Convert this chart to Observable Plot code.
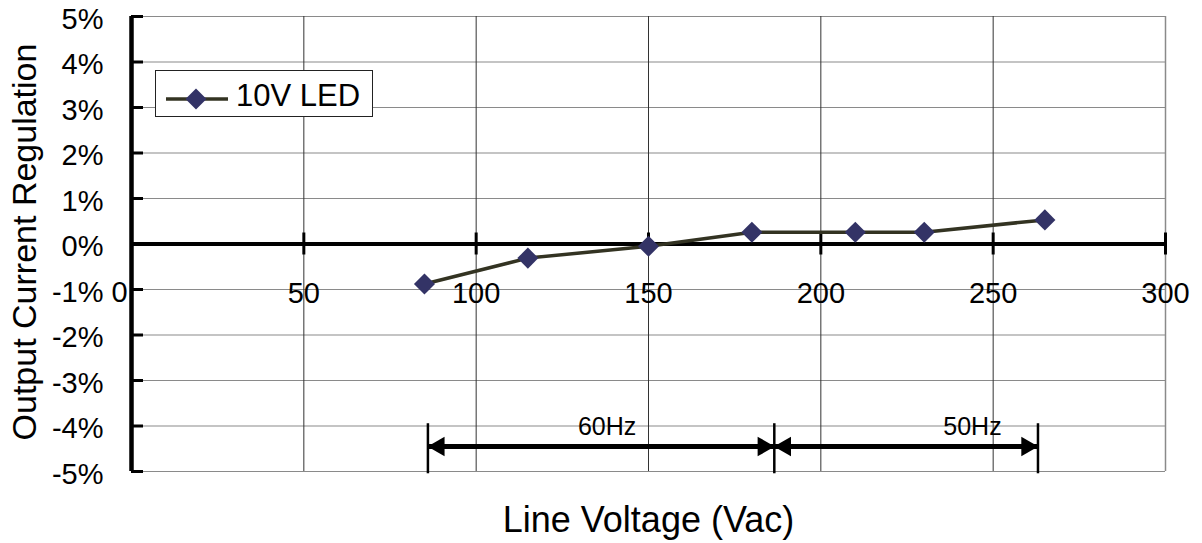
<!DOCTYPE html>
<html>
<head>
<meta charset="utf-8">
<script src="https://cdn.jsdelivr.net/npm/d3@7"></script>
<script src="https://cdn.jsdelivr.net/npm/@observablehq/plot@0.6"></script>
<style>
  html, body { margin: 0; padding: 0; background: #fff; }
  #wrap { position: relative; width: 1202px; height: 543px; }
  #legend {
    position: absolute; left: 155px; top: 70px; width: 216px; height: 45px;
    background: #fff; border: 1px solid #222; box-sizing: content-box;
    font-family: "Liberation Sans", Arial, sans-serif; font-size: 31px; color: #000;
  }
  #legend svg { position: absolute; left: 10px; top: 16px; }
  #legend span { position: absolute; left: 80px; top: 8px; line-height: 34px; }
</style>
</head>
<body>
<div id="wrap"></div>
<script>
// ---- data ----
const voltage = [85, 115, 150, 180, 210, 230, 265];
const regulation = [-0.88, -0.31, -0.05, 0.26, 0.26, 0.26, 0.53];
const xTicks = [0, 50, 100, 150, 200, 250, 300];
const yTicks = [-5, -4, -3, -2, -1, 0, 1, 2, 3, 4, 5];
const bandLabels = ["60Hz", "50Hz"];
const bandStart = [86, 186.5];
const bandEnd = [186.5, 263];
const bandLabelX = [138, 244];
const bandEdges = [86, 186.5, 263];
const arrowY = -4.45;
const bandLabelY = -4.03;
const edgeTop = -3.95;
const edgeBottom = -5.05;
const seriesName = "10V LED";

const data = voltage.map((v, i) => ({v, r: regulation[i]}));
const bands = bandLabels.map((l, i) => ({label: l, x1: bandStart[i], x2: bandEnd[i], lx: bandLabelX[i]}));

const lineColor = "#333322";
const dotColor = "#333366";
const font = "Liberation Sans, Arial, sans-serif";

const chart = Plot.plot({
  width: 1202,
  height: 543,
  marginLeft: 131,
  marginRight: 37,
  marginTop: 16,
  marginBottom: 72,
  style: {fontFamily: font, background: "#fff", overflow: "visible"},
  x: {domain: [0, 300], axis: null},
  y: {domain: [-5, 5], axis: null},
  marks: [
    // horizontal gridlines
    Plot.ruleY(yTicks.filter(d => d !== 0), {y: d => d, stroke: "#8a8a8a", strokeWidth: 1.2}),
    // vertical gridlines
    Plot.ruleX(xTicks.filter(d => d > 0 && d < 300), {x: d => d, stroke: "#333", strokeWidth: 1}),
    Plot.ruleX(xTicks.filter(d => d === 300), {x: d => d, stroke: "#8a8a8a", strokeWidth: 1.5}),
    // frequency band edges
    Plot.ruleX(bandEdges, {x: d => d, y1: () => edgeTop, y2: () => edgeBottom, stroke: "#000", strokeWidth: 2.5}),
    // arrow shafts
    Plot.ruleY(bands, {x1: "x1", x2: "x2", y: () => arrowY, stroke: "#000", strokeWidth: 5}),
    // arrow heads
    Plot.dot(bandStart, {x: d => d, y: () => arrowY, symbol: "triangle", r: 7.3, rotate: -90, dx: 11, fill: "#000", stroke: "none"}),
    Plot.dot(bandEnd, {x: d => d, y: () => arrowY, symbol: "triangle", r: 7.3, rotate: 90, dx: -11, fill: "#000", stroke: "none"}),
    // band labels
    Plot.text(bands, {x: "lx", y: () => bandLabelY, text: "label", fontSize: 25, fill: "#000"}),
    // axes lines
    Plot.ruleY([0], {y: d => d, stroke: "#000", strokeWidth: 4}),
    Plot.ruleX([0], {x: d => d, stroke: "#000", strokeWidth: 4.5}),
    // x ticks on zero line
    Plot.ruleX(xTicks.filter(d => d > 0), {x: d => d, y1: () => 0, y2: () => 0, insetTop: -11, insetBottom: -11, stroke: "#000", strokeWidth: 3}),
    // y ticks
    Plot.ruleY(yTicks, {y: d => d, x1: () => 0, x2: () => 0, insetRight: -12, stroke: "#000", strokeWidth: 3}),
    // y tick labels
    Plot.text(yTicks, {y: d => d, frameAnchor: "left", dx: -28, dy: 3, textAnchor: "end", lineAnchor: "middle", text: d => d + "%", fontSize: 29, fill: "#000"}),
    // x tick labels
    Plot.text(xTicks.filter(d => d > 0), {x: d => d, y: () => 0, dy: 50, text: d => String(d), fontSize: 29, fill: "#000"}),
    Plot.text(xTicks.filter(d => d === 0), {x: d => d, y: () => 0, dy: 49, dx: -12, text: d => String(d), fontSize: 29, fill: "#000"}),
    // series
    Plot.line(data, {x: "v", y: "r", stroke: lineColor, strokeWidth: 3.5}),
    Plot.dot(data, {x: "v", y: "r", symbol: "diamond2", r: 9.5, fill: dotColor, stroke: "none"}),
    // axis titles
    Plot.text(["Line Voltage (Vac)"], {frameAnchor: "bottom", dy: 49, textAnchor: "middle", lineAnchor: "middle", text: d => d, fontSize: 36, fill: "#000"}),
    Plot.text(["Output Current Regulation"], {frameAnchor: "left", dx: -106, dy: -2, rotate: -90, textAnchor: "middle", lineAnchor: "middle", text: d => d, fontSize: 34, fill: "#000"})
  ]
});

const wrap = document.getElementById("wrap");
wrap.appendChild(chart);

// legend
const legend = document.createElement("div");
legend.id = "legend";
legend.innerHTML = `<svg width="64" height="24" viewBox="0 0 64 24">
  <line x1="0" y1="12" x2="62" y2="12" stroke="${lineColor}" stroke-width="3.5"/>
  <path d="M30,1.5 L40.5,12 L30,22.5 L19.5,12 Z" fill="${dotColor}"/>
</svg><span>${seriesName}</span>`;
wrap.appendChild(legend);
</script>
</body>
</html>
